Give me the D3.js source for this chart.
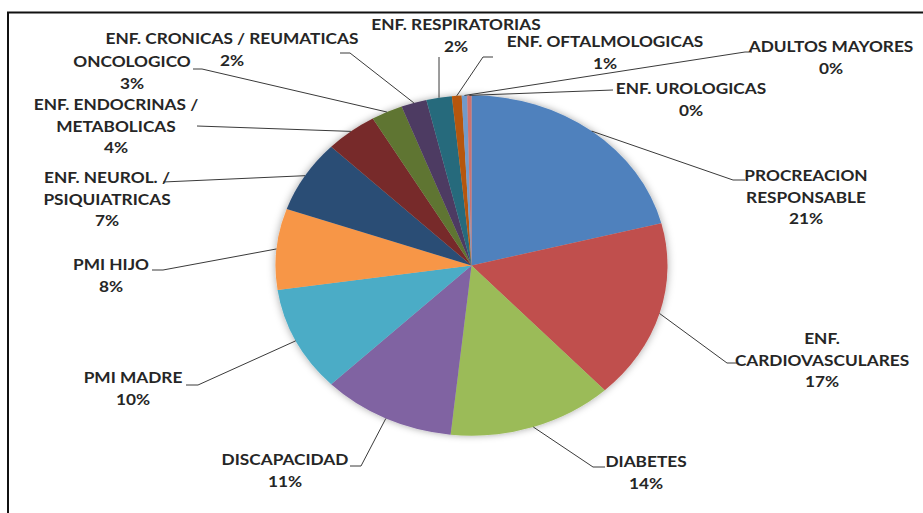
<!DOCTYPE html>
<html>
<head>
<meta charset="utf-8">
<script src="https://cdn.jsdelivr.net/npm/d3@7"></script>
<style>
  html, body { margin: 0; padding: 0; background: #fff; }
  svg { display: block; }
  text { font-family: Lato, "Open Sans", sans-serif; font-weight: 700; fill: #262626; }
</style>
</head>
<body>
<svg id="chart" width="923" height="513"></svg>
<script>
// ---- data ----
const categories = [
  "PROCREACION RESPONSABLE", "ENF. CARDIOVASCULARES", "DIABETES", "DISCAPACIDAD",
  "PMI MADRE", "PMI HIJO", "ENF. NEUROL. / PSIQUIATRICAS", "ENF. ENDOCRINAS / METABOLICAS",
  "ONCOLOGICO", "ENF. CRONICAS / REUMATICAS", "ENF. RESPIRATORIAS", "ENF. OFTALMOLOGICAS",
  "ADULTOS MAYORES", "ENF. UROLOGICAS"
];
const values = [21.0, 17.1, 13.6, 11.0, 10.0, 7.7, 6.9, 4.3, 2.6, 2.1, 2.1, 0.8, 0.45, 0.35];
const colors = ["#4F81BD", "#C0504D", "#9BBB59", "#8064A2", "#4BACC6", "#F79646",
                "#2C4D75", "#772C2A", "#5F7530", "#4D3B62", "#276A7C", "#B65708",
                "#729ACA", "#CD7371"];

// ---- layout (label wrapping & placement) ----
const labelLayout = [
  { lines: ["PROCREACION", "RESPONSABLE"], x: 806, y: 176, elbow: [733, 180], end: [745, 180] },
  { lines: ["ENF.", "CARDIOVASCULARES"], x: 822, y: 339, elbow: [727, 363], end: [738, 363] },
  { lines: ["DIABETES"], x: 646, y: 462, elbow: [593, 467], end: [605, 467] },
  { lines: ["DISCAPACIDAD"], x: 285, y: 460, elbow: [361, 466], end: [350, 466] },
  { lines: ["PMI MADRE"], x: 133, y: 378, elbow: [198, 385], end: [186, 385] },
  { lines: ["PMI HIJO"], x: 111, y: 265, elbow: [163, 270], end: [152, 270] },
  { lines: ["ENF. NEUROL. /", "PSIQUIATRICAS"], x: 107, y: 178, elbow: [163, 182], end: [163, 182] },
  { lines: ["ENF. ENDOCRINAS /", "METABOLICAS"], x: 116, y: 105, elbow: [197, 126], end: [197, 126] },
  { lines: ["ONCOLOGICO"], x: 132, y: 62, elbow: [202, 69], end: [193, 69] },
  { lines: ["ENF. CRONICAS / REUMATICAS"], x: 232, y: 39, elbow: [350, 53], end: [340, 53] },
  { lines: ["ENF. RESPIRATORIAS"], x: 456, y: 25, elbow: [439, 57], end: [439, 57] },
  { lines: ["ENF. OFTALMOLOGICAS"], x: 605, y: 42, elbow: [483, 57], end: [493, 57] },
  { lines: ["ADULTOS MAYORES"], x: 831, y: 47, elbow: [745, 52], end: [752, 52] },
  { lines: ["ENF. UROLOGICAS"], x: 691, y: 89, elbow: [613, 90], end: [613, 90] }
];

const svg = d3.select("#chart");
const cx = 471.5, cy = 265.5, R = 196, sy = 0.868, sx = 1.15;
const lineH = 21.3;

// frame
svg.append("rect").attr("x", 8).attr("y", 12.5).attr("width", 940).attr("height", 540)
  .attr("fill", "none").attr("stroke", "#111").attr("stroke-width", 2);

// shadow filter
const defs = svg.append("defs");
const f = defs.append("filter").attr("id", "sh").attr("x", "-20%").attr("y", "-20%").attr("width", "140%").attr("height", "140%");
f.append("feDropShadow").attr("dx", 0).attr("dy", 0).attr("stdDeviation", 4)
  .attr("flood-color", "#000").attr("flood-opacity", 0.35);

const total = d3.sum(values);
const pie = d3.pie().sort(null).value(d => d)(values);
const arc = d3.arc().innerRadius(0).outerRadius(R);
const edge = d3.arc().innerRadius(R).outerRadius(R);

const g = svg.append("g").attr("transform", `translate(${cx},${cy}) scale(1,${sy})`);
g.append("g").attr("filter", "url(#sh)")
  .selectAll("path").data(pie).join("path")
  .attr("d", arc).attr("fill", (d, i) => colors[i]);

// leaders
const leaders = svg.append("g").attr("fill", "none").attr("stroke", "#3a3a3a").attr("stroke-width", 1);
pie.forEach((d, i) => {
  const c = edge.centroid(d);
  const p0 = [cx + c[0], cy + c[1] * sy];
  const L = labelLayout[i];
  leaders.append("path").attr("d", d3.line()([p0, L.elbow, L.end]));
});

// labels
const labels = svg.append("g");
pie.forEach((d, i) => {
  const L = labelLayout[i];
  const lines = L.lines.concat([Math.round(values[i] / total * 100) + "%"]);
  lines.forEach((t, k) => {
    labels.append("text")
      .attr("transform", `translate(${L.x},${L.y + k * lineH + 5.3}) scale(${sx},1)`)
      .attr("text-anchor", "middle")
      .attr("font-size", 15)
      .text(t);
  });
});
</script>
</body>
</html>
